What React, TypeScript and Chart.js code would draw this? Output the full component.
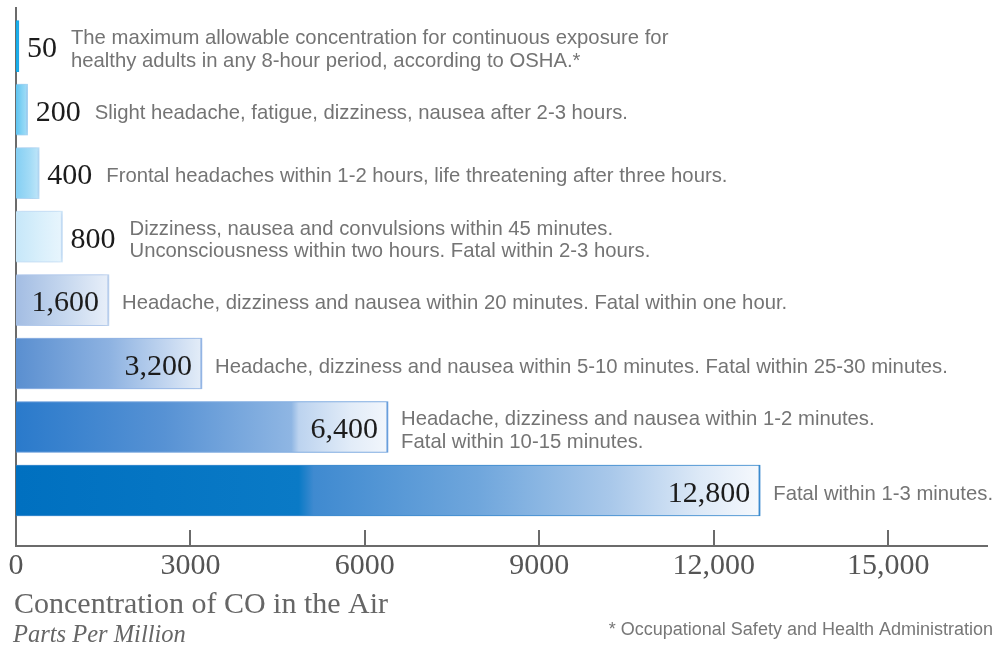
import React, { useEffect, useRef } from 'react';
import { Chart, registerables } from 'chart.js';

Chart.register(...registerables);

// ---------- data ----------
const levelLabels = ['50', '200', '400', '800', '1,600', '3,200', '6,400', '12,800'];
const ppmValues = [50, 200, 400, 800, 1600, 3200, 6400, 12800];
const effects: string[][] = [
  ['The maximum allowable concentration for continuous exposure for', 'healthy adults in any 8-hour period, according to OSHA.*'],
  ['Slight headache, fatigue, dizziness, nausea after 2-3 hours.'],
  ['Frontal headaches within 1-2 hours, life threatening after three hours.'],
  ['Dizziness, nausea and convulsions within 45 minutes.', 'Unconsciousness within two hours. Fatal within 2-3 hours.'],
  ['Headache, dizziness and nausea within 20 minutes. Fatal within one hour.'],
  ['Headache, dizziness and nausea within 5-10 minutes. Fatal within 25-30 minutes.'],
  ['Headache, dizziness and nausea within 1-2 minutes.', 'Fatal within 10-15 minutes.'],
  ['Fatal within 1-3 minutes.'],
];
const labelInsideBar = [false, false, false, false, true, true, true, true];
const xTickValues = [0, 3000, 6000, 9000, 12000, 15000];
const xAxisMax = 16700;
const axisTitle = 'Concentration of CO in the Air';
const axisSubtitle = 'Parts Per Million';
const footnote = '* Occupational Safety and Health Administration';

// ---------- styles ----------
const barGradients: [number, string][][] = [
  [[0, '#0aa8e6'], [1, '#22b6ec']],
  [[0, '#5ec4f0'], [0.5, '#84d2f4'], [1, '#a6def7']],
  [[0, '#84cff3'], [0.6, '#a3dbf6'], [1, '#c0e6f9']],
  [[0, '#c6e7f9'], [0.5, '#d8effb'], [1, '#e8f5fd']],
  [[0, '#a3bde3'], [0.5, '#c4d6ee'], [1, '#e8eff9']],
  [[0, '#5a8fd0'], [0.5, '#8db2e1'], [0.82, '#c4d7f0'], [1, '#e4edf8']],
  [[0, '#2a7acb'], [0.4, '#5792d4'], [0.74, '#8fb6e3'], [0.76, '#bcd3ef'], [0.9, '#e2ecf8'], [1, '#f2f6fc']],
  [[0, '#0070c0'], [0.38, '#0a7ac6'], [0.4, '#3f8ad0'], [0.62, '#6fa6dc'], [0.8, '#a9c8ea'], [0.92, '#dde9f7'], [1, '#f6f9fd']],
];
const barBorders = [
  'rgba(0,160,230,0.9)',
  'rgba(90,190,240,0.5)',
  'rgba(120,200,240,0.45)',
  'rgba(190,225,248,0.6)',
  'rgba(160,190,230,0.6)',
  'rgba(130,170,225,0.8)',
  'rgba(80,145,215,0.85)',
  'rgba(30,125,200,0.9)',
];
const AXIS_COLOR = '#6b6b6b';
const SERIF = '"Liberation Serif", "DejaVu Serif", serif';
const SANS = '"Liberation Sans", Arial, sans-serif';

function formatTick(v: number): string {
  return v >= 10000 ? v.toLocaleString('en-US') : String(v);
}

const annotationPlugin = {
  id: 'coAnnotations',
  beforeDatasetsDraw(chart: any) {
    const { ctx, chartArea, scales } = chart;
    const xs = scales.x;
    const x0 = xs.getPixelForValue(0);
    ctx.save();
    ctx.strokeStyle = AXIS_COLOR;
    ctx.lineWidth = 2;
    ctx.beginPath();
    ctx.moveTo(x0, chartArea.top - 1);
    ctx.lineTo(x0, chartArea.bottom);
    ctx.stroke();
    xs.ticks.forEach((t: any) => {
      if (t.value === 0) return;
      const px = Math.round(xs.getPixelForValue(t.value));
      ctx.beginPath();
      ctx.moveTo(px, chartArea.bottom - 16);
      ctx.lineTo(px, chartArea.bottom);
      ctx.stroke();
    });
    ctx.restore();
    // gradient fills per bar, computed from the scale
    const meta = chart.getDatasetMeta(0);
    meta.data.forEach((bar: any, i: number) => {
      const bx0 = xs.getPixelForValue(0);
      const bx1 = xs.getPixelForValue(ppmValues[i]);
      if (!Number.isFinite(bx0) || !Number.isFinite(bx1)) return;
      const g = ctx.createLinearGradient(bx0, 0, Math.max(bx1, bx0 + 1), 0);
      barGradients[i].forEach(([o, col]) => g.addColorStop(o, col));
      if (bar.options && !Object.isFrozen(bar.options)) {
        bar.options.backgroundColor = g;
      }
    });
    ctx.save();
    ctx.shadowColor = 'rgba(110,150,215,0.45)';
    ctx.shadowBlur = 7;
  },
  afterDatasetsDraw(chart: any) {
    const { ctx, chartArea } = chart;
    ctx.restore();
    const meta = chart.getDatasetMeta(0);
    ctx.save();
    meta.data.forEach((bar: any, i: number) => {
      const { x, y } = bar.getProps(['x', 'y'], true);
      ctx.font = `30px ${SERIF}`;
      ctx.fillStyle = '#1c1c1c';
      ctx.textBaseline = 'alphabetic';
      const baseline = y + 11;
      let descX: number;
      if (labelInsideBar[i]) {
        ctx.textAlign = 'right';
        ctx.fillText(levelLabels[i], x - 10, baseline);
        descX = x + 13;
      } else {
        ctx.textAlign = 'left';
        const lx = x + 8;
        ctx.fillText(levelLabels[i], lx, baseline);
        descX = lx + ctx.measureText(levelLabels[i]).width + 14;
      }
      ctx.font = `20.3px ${SANS}`;
      ctx.fillStyle = '#747474';
      ctx.textAlign = 'left';
      const lines = effects[i];
      const lh = 22.5;
      const first = y + 2 - ((lines.length - 1) * lh) / 2 + 7.3;
      lines.forEach((line, k) => ctx.fillText(line, descX, first + k * lh));
    });

    // axis titles
    ctx.textAlign = 'left';
    ctx.fillStyle = '#666';
    ctx.font = `30px ${SERIF}`;
    ctx.fillText(axisTitle, chartArea.left - 2, chartArea.bottom + 67);
    ctx.font = `italic 24.5px ${SERIF}`;
    ctx.fillText(axisSubtitle, chartArea.left - 3, chartArea.bottom + 96);
    ctx.font = `18px ${SANS}`;
    ctx.fillStyle = '#777';
    ctx.textAlign = 'right';
    ctx.fillText(footnote, chart.width - 10, chartArea.bottom + 89);
    ctx.restore();
  },
};

export default function App() {
  const canvasRef = useRef<HTMLCanvasElement | null>(null);

  useEffect(() => {
    if (!canvasRef.current) return;
    const chart = new Chart(canvasRef.current, {
      type: 'bar',
      data: {
        datasets: [
          {
            label: 'CO concentration (ppm)',
            data: ppmValues.map((v, i) => ({ x: v, y: i })),
            backgroundColor: barGradients.map((s) => s[0][1]),
            borderColor: barBorders,
            borderWidth: { top: 1, right: 2, bottom: 1, left: 0 },
            borderSkipped: false,
            barThickness: 51,
            clip: false,
          } as any,
        ],
      },
      options: {
        indexAxis: 'y',
        animation: false,
        responsive: false,
        devicePixelRatio: 1,
        layout: { padding: { left: 16, top: 8, right: 16, bottom: 59 } },
        plugins: {
          legend: { display: false },
          tooltip: { enabled: false },
          title: { display: false },
        },
        scales: {
          x: {
            type: 'linear',
            position: 'bottom',
            min: 0,
            max: xAxisMax,
            grid: { display: false, drawTicks: false },
            border: { display: true, color: AXIS_COLOR, width: 2 },
            afterBuildTicks: (s: any) => {
              s.ticks = xTickValues.map((v) => ({ value: v }));
            },
            ticks: {
              autoSkip: false,
              maxRotation: 0,
              padding: 2,
              color: '#555',
              font: { family: SERIF, size: 30 },
              callback: (v: any) => formatTick(Number(v)),
            },
            afterFit: (s: any) => {
              s.height = 40;
            },
          },
          y: {
            type: 'linear',
            display: false,
            reverse: true,
            offset: false,
            grace: 0,
            min: -0.6,
            max: 7.874,
          },
        },
      } as any,
      plugins: [annotationPlugin],
    });
    return () => chart.destroy();
  }, []);

  return (
    <div style={{ position: 'absolute', left: 0, top: 0, width: 1003, height: 645, background: '#fff' }}>
      <canvas ref={canvasRef} width={1003} height={645} style={{ display: 'block' }} />
    </div>
  );
}
